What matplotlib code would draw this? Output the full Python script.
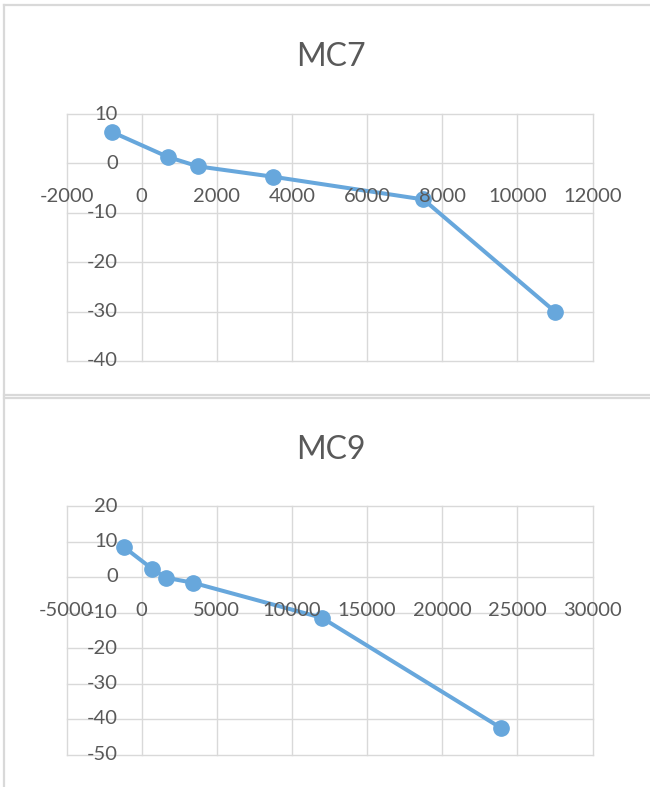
import matplotlib
matplotlib.use("Agg")
import matplotlib.pyplot as plt
from matplotlib.lines import Line2D
import numpy as np

# ---- data ----
mc7_x = [-800, 700, 1500, 3500, 7500, 11000]
mc7_y = [6.4, 1.3, -0.6, -2.7, -7.3, -30.0]
mc7_xticks = [-2000, 0, 2000, 4000, 6000, 8000, 10000, 12000]
mc7_yticks = [10, 0, -10, -20, -30, -40]

mc9_x = [-1200, 700, 1600, 3400, 12000, 23900]
mc9_y = [8.5, 2.3, -0.2, -1.6, -11.5, -42.5]
mc9_xticks = [-5000, 0, 5000, 10000, 15000, 20000, 25000, 30000]
mc9_yticks = [20, 10, 0, -10, -20, -30, -40, -50]

titles = ["MC7", "MC9"]

W, H = 650, 787
DPI = 100
plt.rcParams['font.family'] = ['Lato', 'DejaVu Sans']
TXT = '#595959'
GRID = '#D9D9D9'
LINE = '#67A7DC'

fig = plt.figure(figsize=(W / DPI, H / DPI), dpi=DPI)
fig.patch.set_facecolor('white')


def fx(px):
    return px / W


def fy(py):
    return 1 - py / H


# chart borders (Excel chart areas)
for seg in [((4, 4), (5, 787)),
            ((4, 652), (5, 5)),
            ((4, 652), (395, 395)),
            ((4, 652), (397.5, 397.5))]:
    (x0, x1), (y0, y1) = seg
    fig.add_artist(Line2D([fx(x0), fx(x1)], [fy(y0), fy(y1)],
                          transform=fig.transFigure, color=GRID, lw=1.6))


def make_chart(px_left, px_right, py_top, py_bot, xs, ys, xticks, yticks, title, title_y):
    ax = fig.add_axes([fx(px_left), fy(py_bot), fx(px_right) - fx(px_left), fy(py_top) - fy(py_bot)])
    ax.set_xlim(min(xticks), max(xticks))
    ax.set_ylim(min(yticks), max(yticks))
    for s in ax.spines.values():
        s.set_visible(False)
    ax.set_xticks([])
    ax.set_yticks([])
    for t in xticks:
        ax.axvline(t, color=GRID, lw=1.0, clip_on=False, zorder=1)
    for t in yticks:
        ax.axhline(t, color=GRID, lw=1.0, clip_on=False, zorder=1)
    ax.plot(xs, ys, color=LINE, lw=2.9, marker='o', markersize=11,
            markerfacecolor=LINE, markeredgecolor=LINE, zorder=3, clip_on=False)
    for t in xticks:
        ax.annotate(f"{t}", xy=(t, 0), xytext=(0, -33), textcoords='offset pixels',
                    ha='center', va='center', fontsize=14.5, color=TXT, zorder=4)
    for t in yticks:
        ax.annotate(f"{t}", xy=(0, t), xytext=(-24, 0), textcoords='offset pixels',
                    ha='right', va='center', fontsize=14.5, color=TXT, zorder=4)
    fig.text(fx(331), fy(title_y), title, ha='center', va='center',
             fontsize=23, color=TXT)
    return ax


make_chart(66.5, 592.5, 114, 361, mc7_x, mc7_y, mc7_xticks, mc7_yticks, titles[0], 57)
make_chart(66.5, 592.5, 506, 754.5, mc9_x, mc9_y, mc9_xticks, mc9_yticks, titles[1], 450)

fig.savefig('out.png', dpi=DPI, facecolor='white')
